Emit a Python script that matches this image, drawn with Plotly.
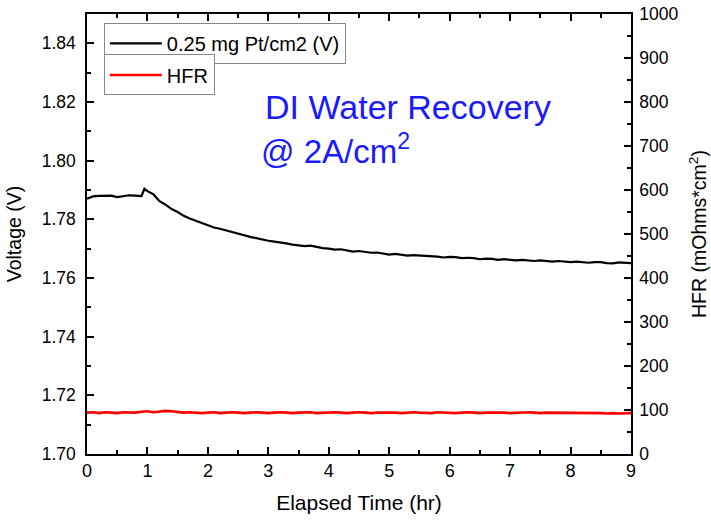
import plotly.graph_objects as go

time_v = [0.0, 0.1, 0.2, 0.3, 0.4, 0.5, 0.6, 0.7, 0.8, 0.9, 0.95, 1.0, 1.1, 1.2, 1.3, 1.4, 1.5, 1.6, 1.7, 1.8, 1.9,
          2.0, 2.1, 2.2, 2.3, 2.4, 2.5, 2.6, 2.7, 2.8, 2.9, 3.0, 3.1, 3.2, 3.3, 3.4, 3.5, 3.6, 3.7, 3.8, 3.9,
          4.0, 4.1, 4.2, 4.3, 4.4, 4.5, 4.6, 4.7, 4.8, 4.9, 5.0, 5.1, 5.2, 5.3, 5.4, 5.5, 5.6, 5.7, 5.8, 5.9,
          6.0, 6.1, 6.2, 6.3, 6.4, 6.5, 6.6, 6.7, 6.8, 6.9, 7.0, 7.1, 7.2, 7.3, 7.4, 7.5, 7.6, 7.7, 7.8, 7.9,
          8.0, 8.1, 8.2, 8.3, 8.4, 8.5, 8.6, 8.7, 8.8, 8.9, 9.0]
voltage = [1.7870, 1.7878, 1.7880, 1.7880, 1.7881, 1.7876, 1.7880, 1.7882, 1.7881, 1.7879, 1.7904, 1.7896,
           1.7885, 1.7862, 1.7850, 1.7835, 1.7825, 1.7812, 1.7803, 1.7795, 1.7786,
           1.7778, 1.7772, 1.7768, 1.7762, 1.7757, 1.7752, 1.7745, 1.7740, 1.7736, 1.7731,
           1.7727, 1.7724, 1.7722, 1.7718, 1.7714, 1.7712, 1.7709, 1.7710, 1.7705, 1.7702,
           1.7700, 1.7697, 1.7698, 1.7694, 1.7690, 1.7692, 1.7688, 1.7686, 1.7687, 1.7684,
           1.7680, 1.7682, 1.7680, 1.7676, 1.7678, 1.7677, 1.7674, 1.7675, 1.7673, 1.7670,
           1.7672, 1.7671, 1.7668, 1.7669, 1.7668, 1.7664, 1.7666, 1.7665, 1.7662, 1.7664,
           1.7663, 1.7660, 1.7662, 1.7661, 1.7658, 1.7660, 1.7659, 1.7656, 1.7658, 1.7657,
           1.7654, 1.7656, 1.7655, 1.7652, 1.7654, 1.7654, 1.7651, 1.7650, 1.7653, 1.7652, 1.7651]

time_h = [0.0, 0.1, 0.2, 0.3, 0.4, 0.5, 0.6, 0.7, 0.8, 0.9, 1.0, 1.1, 1.2, 1.3, 1.4, 1.5, 1.6, 1.7, 1.8, 1.9,
          2.0, 2.1, 2.2, 2.3, 2.4, 2.5, 2.6, 2.7, 2.8, 2.9, 3.0, 3.1, 3.2, 3.3, 3.4, 3.5, 3.6, 3.7, 3.8, 3.9,
          4.0, 4.1, 4.2, 4.3, 4.4, 4.5, 4.6, 4.7, 4.8, 4.9, 5.0, 5.1, 5.2, 5.3, 5.4, 5.5, 5.6, 5.7, 5.8, 5.9,
          6.0, 6.1, 6.2, 6.3, 6.4, 6.5, 6.6, 6.7, 6.8, 6.9, 7.0, 7.1, 7.2, 7.3, 7.4, 7.5, 7.6, 7.7, 7.8, 7.9,
          8.0, 8.1, 8.2, 8.3, 8.4, 8.5, 8.6, 8.7, 8.8, 8.9, 9.0]
hfr = [94, 95, 93, 95, 94, 93, 95, 94, 94, 96, 97, 95, 96, 98, 97, 95, 94, 95, 94, 93,
       94, 95, 93, 94, 95, 94, 93, 94, 95, 94, 93, 94, 95, 94, 93, 94, 94, 95, 93, 94,
       94, 95, 94, 93, 94, 95, 94, 93, 94, 94, 95, 94, 93, 94, 95, 94, 94, 93, 95, 94,
       94, 93, 94, 95, 94, 93, 94, 94, 95, 94, 93, 94, 94, 95, 94, 93, 94, 94, 93, 94,
       94, 93, 94, 93, 94, 93, 92, 93, 92, 93, 93]

x_ticks = [0, 1, 2, 3, 4, 5, 6, 7, 8, 9]
y_ticks = [1.70, 1.72, 1.74, 1.76, 1.78, 1.80, 1.82, 1.84]
y2_ticks = [0, 100, 200, 300, 400, 500, 600, 700, 800, 900, 1000]

FONT = "Liberation Sans, Arial, sans-serif"

fig = go.Figure()
fig.add_trace(go.Scatter(x=time_v, y=voltage, mode="lines", name="0.25 mg Pt/cm2 (V)",
                         line=dict(color="black", width=2.2), legend="legend"))
fig.add_trace(go.Scatter(x=time_h, y=hfr, mode="lines", name="HFR", yaxis="y2",
                         line=dict(color="#ff0000", width=2.6), legend="legend2"))

axis_common = dict(showline=True, linecolor="black", linewidth=1.5, ticks="inside", ticklen=7,
                   tickwidth=1.5, tickcolor="black", showgrid=False, zeroline=False, automargin=False)

fig.update_layout(
    width=711, height=524,
    margin=dict(l=87, r=80, t=14, b=70),
    paper_bgcolor="white", plot_bgcolor="white",
    font=dict(family=FONT, color="black"),
    xaxis=dict(range=[0, 9], tickvals=x_ticks, mirror="ticks",
               tickfont=dict(family=FONT, size=18, color="black"),
               minor=dict(ticks="inside", ticklen=4, tickcolor="black", dtick=0.5, tick0=0),
               title=dict(text="Elapsed Time (hr)", font=dict(family=FONT, size=21)),
               **axis_common),
    yaxis=dict(range=[1.70, 1.85], tickvals=y_ticks, tickformat=".2f", ticklabelstandoff=6,
               tickfont=dict(family=FONT, size=17.5, color="black"),
               minor=dict(ticks="inside", ticklen=4, tickcolor="black", dtick=0.01, tick0=1.70),
               title=dict(text="Voltage (V)", font=dict(family=FONT, size=19.5)),
               **axis_common),
    yaxis2=dict(range=[0, 1000], tickvals=y2_ticks, overlaying="y", side="right", ticklabelstandoff=3,
                tickfont=dict(family=FONT, size=17.5, color="black"),
                minor=dict(ticks="inside", ticklen=4, tickcolor="black", dtick=50, tick0=0),
                title=dict(text="HFR (mOhms*cm<sup>2</sup>)", font=dict(family=FONT, size=19.5)),
                **axis_common),
    legend=dict(x=0.031, y=0.98, xanchor="left", yanchor="top", bgcolor="white",
                bordercolor="#888888", borderwidth=1, font=dict(family=FONT, size=20),
                tracegroupgap=0, itemwidth=52),
    legend2=dict(x=0.031, y=0.908, xanchor="left", yanchor="top", bgcolor="white",
                 bordercolor="#888888", borderwidth=1, font=dict(family=FONT, size=20),
                 tracegroupgap=0, itemwidth=52),
    showlegend=True,
)

fig.add_annotation(x=0.590, y=0.788, xref="paper", yref="paper", showarrow=False,
                   text="DI Water Recovery", font=dict(family=FONT, size=34, color="#1a1aff"),
                   xanchor="center", yanchor="middle")
fig.add_annotation(x=0.316, y=0.693, xref="paper", yref="paper", showarrow=False,
                   text="@ 2A/cm<sup>2</sup>", font=dict(family=FONT, size=33, color="#1a1aff"),
                   xanchor="left", yanchor="middle")

fig.write_html("out.html", config={"displayModeBar": False},
               post_script="document.body.style.margin='0';")
